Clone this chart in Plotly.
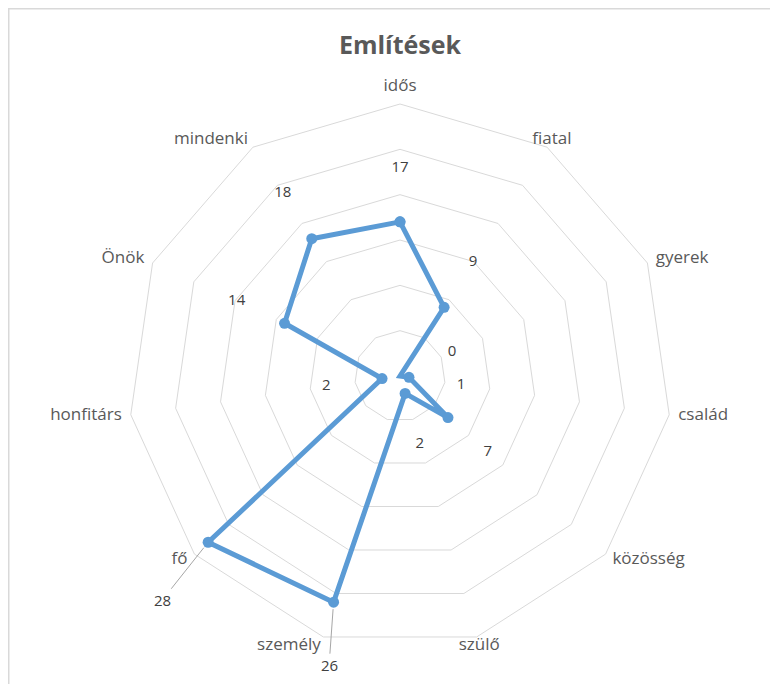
import math
import plotly.graph_objects as go

categories = ["idős", "fiatal", "gyerek", "család", "közösség", "szülő",
              "személy", "fő", "honfitárs", "Önök", "mindenki"]
values = [17, 9, 0, 1, 7, 2, 26, 28, 2, 14, 18]
title_text = "Említések"

# ---- style / layout settings (not data) ----
FONT = "Open Sans, Noto Sans, sans-serif"
W, H = 778, 684
CX, CY = 392, 368          # polar centre in figure pixels
R30 = 272                  # pixel radius of the value 30 ring
RMAX = 34                  # radial range used so outside labels fit
RPX = R30 * RMAX / 30
grid_vals = [5, 10, 15, 20, 25, 30]
cat_label_r = 31
cat_positions = ["top center", "middle center", "middle right", "middle right",
                 "middle right", "middle center", "middle left", "middle left",
                 "middle left", "middle left", "middle left"]
label_offset = [5.9, 5.9, 6.3, 5.8, 5.8, 5.8, None, None, 6.2, 5.8, 5.9]
# leader-line labels: (index, pixel offset of text from the point)
leader_labels = {6: (-4.5, 63), 7: (-46, 58)}

n = len(categories)


def to_paper(r, idx):
    ang = math.radians(idx * 360 / n)
    px = R30 / 30 * r
    x = CX + px * math.sin(ang)
    y = CY - px * math.cos(ang)
    return x / W, 1 - y / H


fig = go.Figure()

fig.add_trace(go.Scatterpolar(
    r=values + [values[0]],
    theta=categories + [categories[0]],
    mode="lines+markers",
    line=dict(color="#5b9bd5", width=5),
    marker=dict(color="#5b9bd5", size=11),
    showlegend=False,
    cliponaxis=False,
))

# data labels (those placed near their points)
lab_idx = [i for i in range(n) if label_offset[i] is not None]
fig.add_trace(go.Scatterpolar(
    r=[values[i] + label_offset[i] for i in lab_idx],
    theta=[categories[i] for i in lab_idx],
    mode="text",
    text=[str(values[i]) for i in lab_idx],
    textfont=dict(family=FONT, size=15, color="#404040"),
    textposition="middle center",
    showlegend=False, hoverinfo="skip", cliponaxis=False,
))

# category labels
fig.add_trace(go.Scatterpolar(
    r=[cat_label_r] * n,
    theta=categories,
    mode="text",
    text=categories,
    textfont=dict(family=FONT, size=17, color="#595959"),
    textposition=cat_positions,
    showlegend=False, hoverinfo="skip", cliponaxis=False,
))

annotations = []
for i, (ax, ay) in leader_labels.items():
    x, y = to_paper(values[i], i)
    annotations.append(dict(
        x=x, y=y, xref="paper", yref="paper",
        text=str(values[i]), showarrow=True, arrowhead=0, arrowwidth=1,
        arrowcolor="#a6a6a6", ax=ax, ay=ay, standoff=7,
        font=dict(family=FONT, size=15, color="#404040"),
    ))

fig.update_layout(
    width=W, height=H,
    margin=dict(l=0, r=0, t=0, b=0),
    paper_bgcolor="white",
    title=dict(text=f"<b>{title_text}</b>", x=CX / W, xanchor="center",
               y=1 - 37 / H, yanchor="middle",
               font=dict(family=FONT, size=25, color="#595959")),
    polar=dict(
        domain=dict(x=[(CX - RPX) / W, (CX + RPX) / W],
                    y=[(H - CY - RPX) / H, (H - CY + RPX) / H]),
        gridshape="linear",
        bgcolor="white",
        radialaxis=dict(range=[0, RMAX], tickvals=grid_vals, showticklabels=False,
                        ticks="", showline=False, gridcolor="#d9d9d9", gridwidth=1),
        angularaxis=dict(rotation=90, direction="clockwise", showgrid=False,
                         showline=False, showticklabels=False, ticks="",
                         categoryorder="array", categoryarray=categories),
    ),
    annotations=annotations,
    shapes=[dict(type="rect", xref="paper", yref="paper",
                 x0=0, x1=1.2, y0=-0.2, y1=1,
                 line=dict(color="#d9d9d9", width=3))],
)

fig.write_html("out.html")
